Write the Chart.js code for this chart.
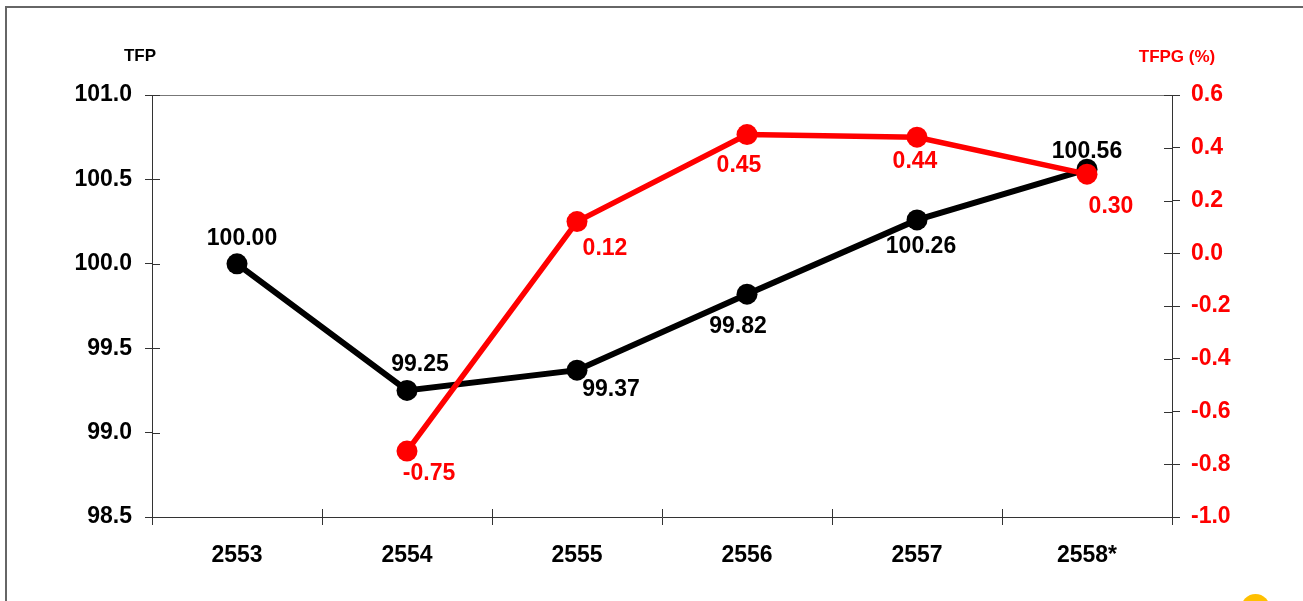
<!DOCTYPE html>
<html>
<head>
<meta charset="utf-8">
<title>TFP / TFPG</title>
<script src="https://cdn.jsdelivr.net/npm/chart.js@4/dist/chart.umd.min.js"></script>
<style>
  html, body { margin: 0; padding: 0; background: #fff; }
  #wrap { position: relative; width: 1303px; height: 601px; overflow: hidden; background: #fff; }
  #frame { position: absolute; left: 5px; top: 6px; width: 1400px; height: 700px;
           border: 2px solid #666; box-sizing: border-box; }
  #dot { position: absolute; left: 1241px; top: 594px; width: 29px; height: 29px;
         border-radius: 50%; background: #ffc000; }
  canvas { position: absolute; left: 0; top: 0; }
</style>
</head>
<body>
<div id="wrap">
  <div id="frame"></div>
  <canvas id="chart" width="1303" height="601"></canvas>
  <div id="dot"></div>
</div>
<script>
// ---- data ----
const years = ['2553', '2554', '2555', '2556', '2557', '2558*'];
const tfp   = [100.00, 99.25, 99.37, 99.82, 100.26, 100.56];
const tfpg  = [null, -0.75, 0.12, 0.45, 0.44, 0.30];

// label offsets (px from point) — style only
const tfpLabelOff  = [[5, -25], [13, -26], [34, 20], [-9, 32], [4, 27], [0, -18]];
const tfpgLabelOff = [null, [22, 23], [28, 27], [-8, 31], [-2, 24], [24, 33]];

const FONT = "'Liberation Sans', Arial, sans-serif";
const RED = '#ff0000';

const fmt1 = (v) => (Math.abs(v) < 1e-9 ? 0 : v).toFixed(1);

// frame lines, cross ticks, axis titles and point labels
const decorPlugin = {
  id: 'decor',
  afterDraw(chart) {
    const ctx = chart.ctx;
    const a = chart.chartArea;
    const sx = chart.scales.x, yl = chart.scales.y, yr = chart.scales.y1;
    ctx.save();
    // top line of plot area
    ctx.strokeStyle = '#777';
    ctx.lineWidth = 1;
    ctx.beginPath();
    ctx.moveTo(a.left, a.top + 0.5);
    ctx.lineTo(a.right, a.top + 0.5);
    ctx.stroke();
    // inner parts of the tick marks
    ctx.strokeStyle = '#333';
    ctx.beginPath();
    for (let i = 0; i <= years.length; i++) {
      const x = Math.round(sx.getPixelForValue(i - 0.5)) + 0.5;
      ctx.moveTo(x, a.bottom);
      ctx.lineTo(x, a.bottom - 8);
    }
    yl.ticks.forEach((t) => {
      const y = Math.round(yl.getPixelForValue(t.value)) + 0.5;
      ctx.moveTo(a.left, y);
      ctx.lineTo(a.left + 8, y);
    });
    yr.ticks.forEach((t) => {
      const y = Math.round(yr.getPixelForValue(t.value)) + 0.5;
      ctx.moveTo(a.right, y);
      ctx.lineTo(a.right - 8, y);
    });
    ctx.stroke();

    // axis titles
    ctx.textAlign = 'center';
    ctx.textBaseline = 'middle';
    ctx.font = 'bold 17px ' + FONT;
    ctx.fillStyle = '#000';
    ctx.fillText('TFP', a.left - 12, a.top - 39);
    ctx.fillStyle = RED;
    ctx.fillText('TFPG (%)', a.right + 5, a.top - 38);

    // point labels
    ctx.font = 'bold 23px ' + FONT;
    chart.data.datasets.forEach((ds, di) => {
      const meta = chart.getDatasetMeta(di);
      const offs = ds.labelOff;
      meta.data.forEach((pt, i) => {
        const v = ds.data[i];
        if (v === null || !offs[i]) return;
        ctx.fillStyle = ds.borderColor;
        ctx.fillText(v.toFixed(2), pt.x + offs[i][0], pt.y + offs[i][1]);
      });
    });
    ctx.restore();
  },
};

new Chart(document.getElementById('chart'), {
  type: 'line',
  data: {
    labels: years,
    datasets: [
      {
        label: 'TFPG (%)',
        data: tfpg,
        yAxisID: 'y1',
        borderColor: RED,
        backgroundColor: RED,
        borderWidth: 5.5,
        pointRadius: 10.5,
        pointBorderWidth: 0,
        tension: 0,
        order: 0,
        labelOff: tfpgLabelOff,
      },
      {
        label: 'TFP',
        data: tfp,
        yAxisID: 'y',
        borderColor: '#000000',
        backgroundColor: '#000000',
        borderWidth: 6,
        pointRadius: 10.5,
        pointBorderWidth: 0,
        tension: 0,
        order: 1,
        labelOff: tfpLabelOff,
      },
    ],
  },
  options: {
    responsive: false,
    animation: false,
    layout: { padding: { top: 95, left: 0, right: 0, bottom: 0 } },
    plugins: { legend: { display: false }, tooltip: { enabled: false } },
    scales: {
      x: {
        offset: true,
        grid: { offset: true, drawOnChartArea: false, tickLength: 8, color: '#333' },
        border: { color: '#333', width: 1 },
        ticks: { color: '#000', padding: 17, font: { family: FONT, size: 23, weight: 'bold' } },
        afterFit: (s) => { s.height = 84; },
      },
      y: {
        position: 'left',
        min: 98.5,
        max: 101,
        grid: { drawOnChartArea: false, tickLength: 7, color: '#333' },
        border: { color: '#333', width: 1 },
        ticks: {
          stepSize: 0.5,
          color: '#000',
          padding: 13,
          font: { family: FONT, size: 23, weight: 'bold' },
          callback: (v) => fmt1(v),
        },
        afterFit: (s) => { s.width = 152; },
      },
      y1: {
        position: 'right',
        min: -1,
        max: 0.6,
        grid: { drawOnChartArea: false, tickLength: 8, color: '#333' },
        border: { color: '#333', width: 1 },
        ticks: {
          stepSize: 0.2,
          color: RED,
          padding: 11,
          font: { family: FONT, size: 23, weight: 'bold' },
          callback: (v) => fmt1(v),
        },
        afterFit: (s) => { s.width = 131; },
      },
    },
  },
  plugins: [decorPlugin],
});
</script>
</body>
</html>
